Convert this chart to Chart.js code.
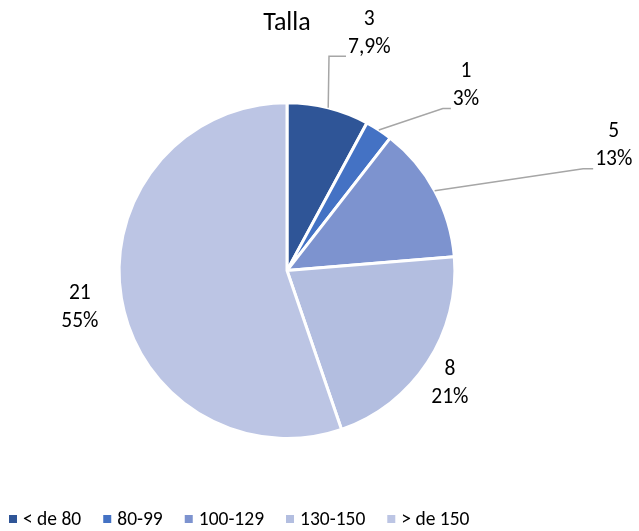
<!DOCTYPE html>
<html><head><meta charset="utf-8">
<script src="https://cdn.jsdelivr.net/npm/chart.js@4/dist/chart.umd.min.js"></script>
<style>html,body{margin:0;padding:0;background:#fff}canvas{display:block}</style>
</head><body>
<canvas id="c" width="639" height="531"></canvas>
<script>
const titleText = 'Talla';
const categories = ['< de 80', '80-99', '100-129', '130-150', '> de 150'];
const counts = [3, 1, 5, 8, 21];
const percentLabels = ['7,9%', '3%', '13%', '21%', '55%'];
const sliceColors = ['#2F5597', '#4472C4', '#7D93CF', '#B3BEE0', '#BCC5E4'];

const FONT = 'Carlito, Lato, "Liberation Sans", sans-serif';
// label centre positions relative to pie centre, in radius units; leader elbow lengths (px)
const labelPos = [[0.49, -1.413], [1.066, -1.102], [1.946, -0.743], [0.97, 0.671], [-1.234, 0.222]];
const leaderLen = [17, 8, 10, 0, 0];

const labelPlugin = {
  id: 'sliceLabels',
  afterDatasetsDraw(chart) {
    const ctx = chart.ctx;
    const arcs = chart.getDatasetMeta(0).data;
    ctx.save();
    ctx.font = '21.5px ' + FONT;
    ctx.textAlign = 'center';
    ctx.textBaseline = 'middle';
    arcs.forEach((arc, i) => {
      const cx = arc.x, cy = arc.y, r = arc.outerRadius;
      const lx = cx + labelPos[i][0] * r;
      const ly = cy + labelPos[i][1] * r;
      const l1 = String(chart.data.datasets[0].data[i]);
      const l2 = percentLabels[i];
      ctx.fillStyle = '#000';
      ctx.fillText(l1, lx, ly - 14);
      ctx.fillText(l2, lx, ly + 14);
      if (leaderLen[i] > 0) {
        const w = Math.max(ctx.measureText(l1).width, ctx.measureText(l2).width);
        const endX = lx - w / 2 - 2;
        const lineY = ly + 23;
        const mid = (arc.startAngle + arc.endAngle) / 2;
        const sx = cx + Math.cos(mid) * r;
        const sy = cy + Math.sin(mid) * r;
        ctx.strokeStyle = '#A6A6A6';
        ctx.lineWidth = 1.5;
        ctx.beginPath();
        ctx.moveTo(sx, sy);
        ctx.lineTo(endX - leaderLen[i], lineY);
        ctx.lineTo(endX, lineY);
        ctx.stroke();
      }
    });
    ctx.restore();
  }
};

const legendPlugin = {
  id: 'bottomLegend',
  afterDraw(chart) {
    const ctx = chart.ctx;
    ctx.save();
    ctx.font = '19.5px ' + FONT;
    ctx.textBaseline = 'middle';
    ctx.textAlign = 'left';
    let x = 9;
    const y = 519;
    chart.data.labels.forEach((lab, i) => {
      ctx.fillStyle = chart.data.datasets[0].backgroundColor[i];
      ctx.fillRect(x, y - 4, 8, 8);
      ctx.fillStyle = '#000';
      ctx.fillText(lab, x + 14, y + 1);
      x += 14 + ctx.measureText(lab).width + 22;
    });
    ctx.restore();
  }
};

new Chart(document.getElementById('c'), {
  type: 'pie',
  data: {
    labels: categories,
    datasets: [{
      data: counts,
      backgroundColor: sliceColors,
      borderColor: '#ffffff',
      borderWidth: 3,
      hoverOffset: 0
    }]
  },
  options: {
    responsive: false,
    animation: false,
    events: [],
    layout: { padding: { top: 8, left: 116, right: 181, bottom: 91 } },
    plugins: {
      legend: { display: false },
      tooltip: { enabled: false },
      title: {
        display: true,
        text: titleText,
        color: '#000',
        font: { family: FONT, size: 26, weight: 'normal' },
        padding: { top: 0, bottom: 62 }
      }
    }
  },
  plugins: [labelPlugin, legendPlugin]
});
</script>
</body></html>
